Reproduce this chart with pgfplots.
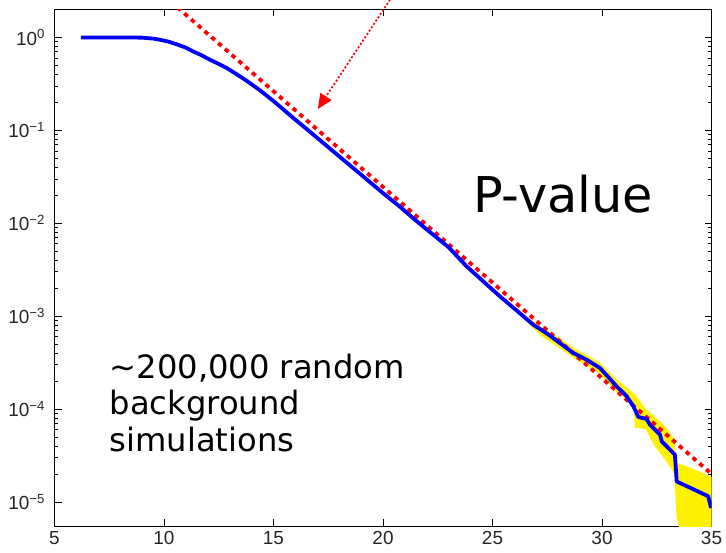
\documentclass[border=0pt]{standalone}
\usepackage{fontspec}
\setmainfont{Liberation Sans}
\newfontfamily\dejavu{DejaVu Sans}
\usepackage{pgfplots}
\pgfplotsset{compat=1.18}
\usetikzlibrary{arrows.meta}
\begin{document}
\begin{tikzpicture}
\begin{axis}[
  name=ax,
  scale only axis, width=657bp, height=516.5bp,
  xmin=5, xmax=35, ymode=log, ymin=5.5e-6, ymax=2,
  xtick={5,10,15,20,25,30,35},
  xticklabels={5,10,15,20,25,30,35},
  ytick={1e-5,1e-4,1e-3,1e-2,1e-1,1},
  yticklabels={10\textsuperscript{−5},10\textsuperscript{−4},10\textsuperscript{−3},10\textsuperscript{−2},10\textsuperscript{−1},10\textsuperscript{0}},
  tick pos=both, tick align=inside,
  major tick length=7bp, minor tick length=4bp,
  tick style={line width=0.7bp, black},
  axis line style={line width=0.8bp, black},
  tick label style={font=\fontsize{19}{19}\selectfont, text=black!85},
  yticklabel style={xshift=-6bp},
  xticklabel style={yshift=-2bp},
  after end axis/.code={
    \draw[red, line width=1.7bp, dash pattern=on 2bp off 2bp,
      -{Triangle[length=15bp,width=13bp,sep=0pt]}]
      (axis cs:20.32,2.55) -- (axis cs:17.02,0.1696);
    \node[anchor=base west, inner sep=0pt, font=\dejavu\fontsize{49.5}{49.5}\selectfont]
      at (rel axis cs:0.637,0.606) {P-value};
    \node[anchor=base west, inner sep=0pt, font=\dejavu\fontsize{32.3}{32.3}\selectfont]
      at (rel axis cs:0.0837,0.2860) {\char"007E 200,000 random};
    \node[anchor=base west, inner sep=0pt, font=\dejavu\fontsize{32.3}{32.3}\selectfont]
      at (rel axis cs:0.0837,0.2150) {background};
    \node[anchor=base west, inner sep=0pt, font=\dejavu\fontsize{32.3}{32.3}\selectfont]
      at (rel axis cs:0.0837,0.1439) {simulations};
  },
]
% yellow uncertainty band (upper edge, then lower edge reversed)
\addplot[fill=yellow, draw=none] coordinates {
  (26.6,9.77e-4) (27.2,7.76e-4) (28.1,5.75e-4) (28.7,4.57e-4) (29.9,3.16e-4)
  (30.67,2.09e-4) (31.3,1.58e-4) (31.5,1.45e-4) (32.0,1.0e-4) (32.4,8.32e-5)
  (32.9,6.46e-5) (33.3,4.68e-5) (33.4,2.63e-5) (33.9,2.40e-5) (35,1.86e-5)
  (35,2.5e-6) (33.9,2.5e-6) (33.4,6.92e-6) (33.3,2.04e-5) (32.9,2.82e-5)
  (32.4,3.98e-5) (32.0,6.03e-5) (31.5,6.31e-5) (31.45,1.10e-4) (31.3,1.20e-4)
  (30.67,1.51e-4) (29.9,2.40e-4) (28.7,3.55e-4) (28.1,4.47e-4) (27.2,6.17e-4)
  (26.6,8.51e-4)
} -- cycle;
% exponential reference (red dashed)
\addplot[red, line width=3.8bp, dash pattern=on 4.5bp off 4.5bp] coordinates {
  (10,2.82) (35,2.0e-5)
};
% empirical p-value (blue)
\addplot[blue, line width=3.8bp, line join=round] coordinates {
  (6.2,1.0) (7,1.0) (8,1.0) (8.6,0.998) (9.0,0.995) (9.5,0.973) (9.82,0.944)
  (10.2,0.902) (10.6,0.841) (11.0,0.776) (11.34,0.706) (11.7,0.646) (12.1,0.575)
  (12.5,0.519) (12.86,0.469) (13.3,0.404) (13.8,0.338) (14.38,0.270) (15.0,0.2065)
  (15.5,0.164) (16.0,0.130) (16.5,0.104) (17.0,0.0828) (17.5,0.0659) (18.0,0.0525)
  (18.5,0.0418) (19.0,0.0333) (19.5,0.0265) (20.0,0.0211) (20.78,0.0150)
  (21.5,0.0107) (22.30,0.0075) (23.0,0.00550) (23.82,0.00343) (24.6,0.00234)
  (25.34,0.00163) (26.1,0.00115)
  (26.86,8.08e-4) (27.5,6.46e-4) (28.08,5.13e-4) (28.69,4.01e-4) (29.3,3.39e-4)
  (29.91,2.76e-4) (30.3,2.19e-4) (30.67,1.75e-4) (31.13,1.37e-4) (31.43,1.07e-4)
  (31.66,8.2e-5) (32.04,7.8e-5) (32.19,6.78e-5) (32.65,5.29e-5) (32.73,4.48e-5)
  (33.33,3.22e-5) (33.41,1.66e-5) (34.85,1.15e-5) (34.98,8.6e-6)
};
\end{axis}
\pgfresetboundingbox
\path[use as bounding box] ([xshift=-54.5bp,yshift=-27bp]ax.south west) rectangle ([xshift=14.5bp,yshift=9.5bp]ax.north east);
\end{tikzpicture}
\end{document}
